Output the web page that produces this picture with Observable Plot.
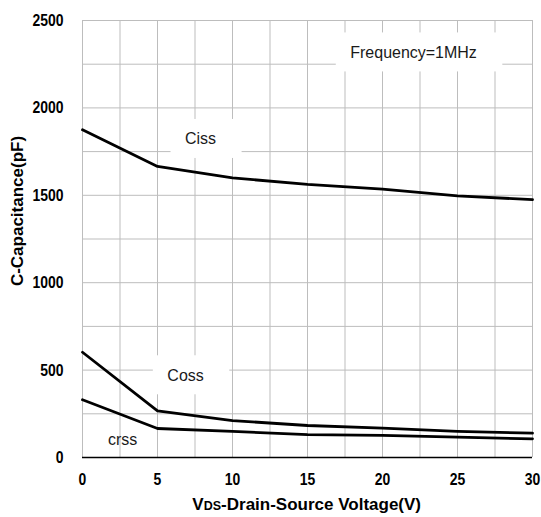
<!DOCTYPE html>
<html>
<head>
<meta charset="utf-8">
<script src="https://cdn.jsdelivr.net/npm/d3@7"></script>
<script src="https://cdn.jsdelivr.net/npm/@observablehq/plot@0.6"></script>
<style>
  html, body { margin: 0; padding: 0; background: #fff; }
  svg { display: block; }
</style>
</head>
<body>
<div id="chart"></div>
<script>
// ---- data ----
const voltage = [0, 5, 10, 15, 20, 25, 30];
const ciss = [1875, 1665, 1600, 1562, 1535, 1497, 1475];
const coss = [602, 267, 211, 183, 168, 149, 139];
const crss = [330, 166, 149, 131, 126, 116, 107];

const xTicks = [0, 5, 10, 15, 20, 25, 30];
const xGrid = [0, 2.5, 5, 7.5, 10, 12.5, 15, 17.5, 20, 22.5, 25, 27.5, 30];
const yTicks = [0, 500, 1000, 1500, 2000, 2500];
const yGrid = [0, 250, 500, 750, 1000, 1250, 1500, 1750, 2000, 2250, 2500];

const labelText = ["Frequency=1MHz", "Ciss", "Coss", "crss"];
const labelX = [22.07, 7.87, 6.87, 2.67];
const labelY = [2317, 1822, 470, 102];
const labelBoxed = [true, true, true, false];

const xTitle = ["V", "DS", "-Drain-Source Voltage(V)"];
const yTitle = "C-Capacitance(pF)";

// ---- tables built from the arrays ----
const seriesList = [
  {name: "Ciss", values: ciss},
  {name: "Coss", values: coss},
  {name: "Crss", values: crss}
];
const rows = seriesList.flatMap(s => voltage.map((v, i) => ({series: s.name, v, c: s.values[i]})));
const labels = labelText.map((t, i) => ({text: t, x: labelX[i], y: labelY[i], boxed: labelBoxed[i]}));

const FONT = "'Liberation Sans', Arial, Helvetica, sans-serif";
const plain = d => String(d);

const plot = Plot.plot({
  width: 541,
  height: 517,
  marginLeft: 82,
  marginRight: 9,
  marginTop: 20,
  marginBottom: 60,
  style: {fontFamily: FONT, background: "#fff", color: "#000"},
  x: {domain: [0, 30]},
  y: {domain: [0, 2500]},
  marks: [
    Plot.ruleX(xGrid, {stroke: "#bdbdbd", strokeWidth: 1}),
    Plot.ruleY(yGrid, {stroke: "#bdbdbd", strokeWidth: 1}),
    Plot.ruleY([0], {stroke: "#000", strokeWidth: 1.5}),
    Plot.axisX(xTicks, {tickSize: 0, tickPadding: 15, fontSize: 17, fontWeight: "bold", label: null, fill: "#000", tickFormat: plain}),
    Plot.axisY(yTicks, {tickSize: 0, tickPadding: 19, fontSize: 17, fontWeight: "bold", label: null, fill: "#000", tickFormat: plain}),
    Plot.line(rows, {x: "v", y: "c", z: "series", stroke: "#000", strokeWidth: 2.8, strokeLinejoin: "round"}),
    Plot.text(labels, {x: "x", y: "y", text: "text", fontSize: 17, fill: "#1a1a1a"})
  ]
});

document.getElementById("chart").appendChild(plot);
const svg = d3.select(plot);

// condense tick labels and annotation text like the reference
function squeeze(sel, ratio) {
  sel.each(function () {
    const w = this.getComputedTextLength();
    this.setAttribute("textLength", (w * ratio).toFixed(2));
    this.setAttribute("lengthAdjust", "spacingAndGlyphs");
  });
}
squeeze(svg.selectAll('g[aria-label="x-axis tick label"] text'), 0.82);
squeeze(svg.selectAll('g[aria-label="y-axis tick label"] text'), 0.82);
const textGroup = svg.select('g[aria-label="text"]');
squeeze(textGroup.selectAll("text"), 0.94);

// white boxes behind boxed annotations (break the grid lines)
const boxLayer = document.createElementNS("http://www.w3.org/2000/svg", "g");
textGroup.node().parentNode.insertBefore(boxLayer, textGroup.node());
textGroup.selectAll("text").each(function () {
  const idx = labelText.indexOf(this.textContent);
  if (idx < 0 || !labelBoxed[idx]) return;
  const b = this.getBBox();
  const ctm = this.getAttribute("transform");
  const r = document.createElementNS("http://www.w3.org/2000/svg", "rect");
  r.setAttribute("x", b.x - 14);
  r.setAttribute("y", b.y - 10);
  r.setAttribute("width", b.width + 40);
  r.setAttribute("height", b.height + 20);
  r.setAttribute("fill", "#fff");
  if (ctm) r.setAttribute("transform", ctm);
  boxLayer.appendChild(r);
});

// axis titles
const xt = svg.append("text")
  .attr("x", 306.7).attr("y", 510)
  .attr("text-anchor", "middle")
  .attr("font-family", FONT).attr("font-weight", "bold").attr("fill", "#000");
xt.append("tspan").attr("font-size", 17).text(xTitle[0]);
xt.append("tspan").attr("font-size", 12.5).text(xTitle[1]);
xt.append("tspan").attr("font-size", 17).text(xTitle[2]);

svg.append("text")
  .attr("transform", "translate(23,211) rotate(-90)")
  .attr("text-anchor", "middle")
  .attr("font-family", FONT).attr("font-weight", "bold").attr("font-size", 17).attr("fill", "#000")
  .text(yTitle);
</script>
</body>
</html>
